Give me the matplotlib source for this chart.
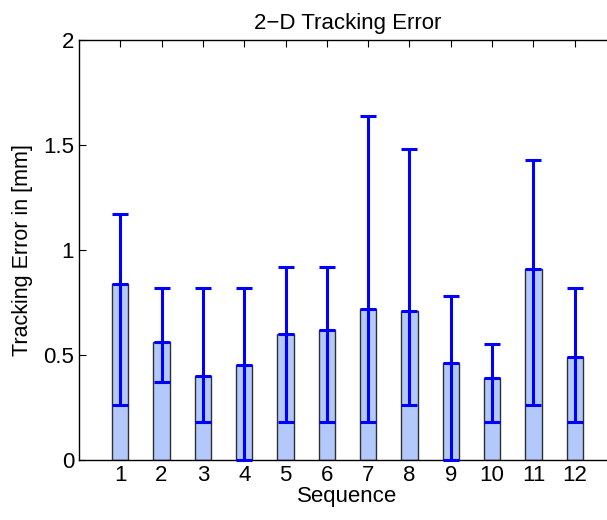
import matplotlib
matplotlib.use("Agg")
import matplotlib.pyplot as plt

# 2-D tracking error per sequence: bar = mean, error bar = min..max
sequences = [1, 2, 3, 4, 5, 6, 7, 8, 9, 10, 11, 12]
mean_err = [0.84, 0.56, 0.40, 0.45, 0.60, 0.62, 0.72, 0.71, 0.46, 0.39, 0.91, 0.49]
low_err = [0.26, 0.37, 0.18, 0.0, 0.18, 0.18, 0.18, 0.26, 0.0, 0.18, 0.26, 0.18]
high_err = [1.17, 0.82, 0.82, 0.82, 0.92, 0.92, 1.64, 1.48, 0.78, 0.55, 1.43, 0.82]
ytick_vals = [0, 0.5, 1, 1.5, 2]
ytick_labels = ['0', '0.5', '1', '1.5', '2']

plt.rcParams['font.family'] = ['Liberation Sans', 'DejaVu Sans']

fig = plt.figure(figsize=(6.07, 5.2), dpi=100)
# axes run past the right edge of the figure, as in the original export
ax = fig.add_axes([0.130, 0.1154, 0.885, 0.8077])

ax.bar(sequences, mean_err, width=0.4, color='#b3c8fb', edgecolor='#303030',
       linewidth=1.0, zorder=2)

yerr = [[m - lo for m, lo in zip(mean_err, low_err)],
        [hi - m for m, hi in zip(mean_err, high_err)]]
ax.errorbar(sequences, mean_err, yerr=yerr, fmt='_', color='blue',
            markersize=12, markeredgewidth=2.2, elinewidth=2.2,
            capsize=6, capthick=2.2, zorder=3, clip_on=False)

ax.set_xlim(0, 13)
ax.set_ylim(0, 2)
ax.set_xticks(sequences)
ax.set_yticks(ytick_vals)
ax.set_yticklabels(ytick_labels)
ax.tick_params(direction='in', top=True, right=False, labelsize=16, length=5)
ax.spines['right'].set_visible(False)
for s in ax.spines.values():
    s.set_linewidth(1.0)

ax.set_title('2\u2212D Tracking Error', fontsize=16, pad=8)
ax.set_xlabel('Sequence', fontsize=16, labelpad=0)
ax.set_ylabel('Tracking Error in [mm]', fontsize=15.5, labelpad=7)

plt.savefig('out.png', dpi=100)
plt.close()
